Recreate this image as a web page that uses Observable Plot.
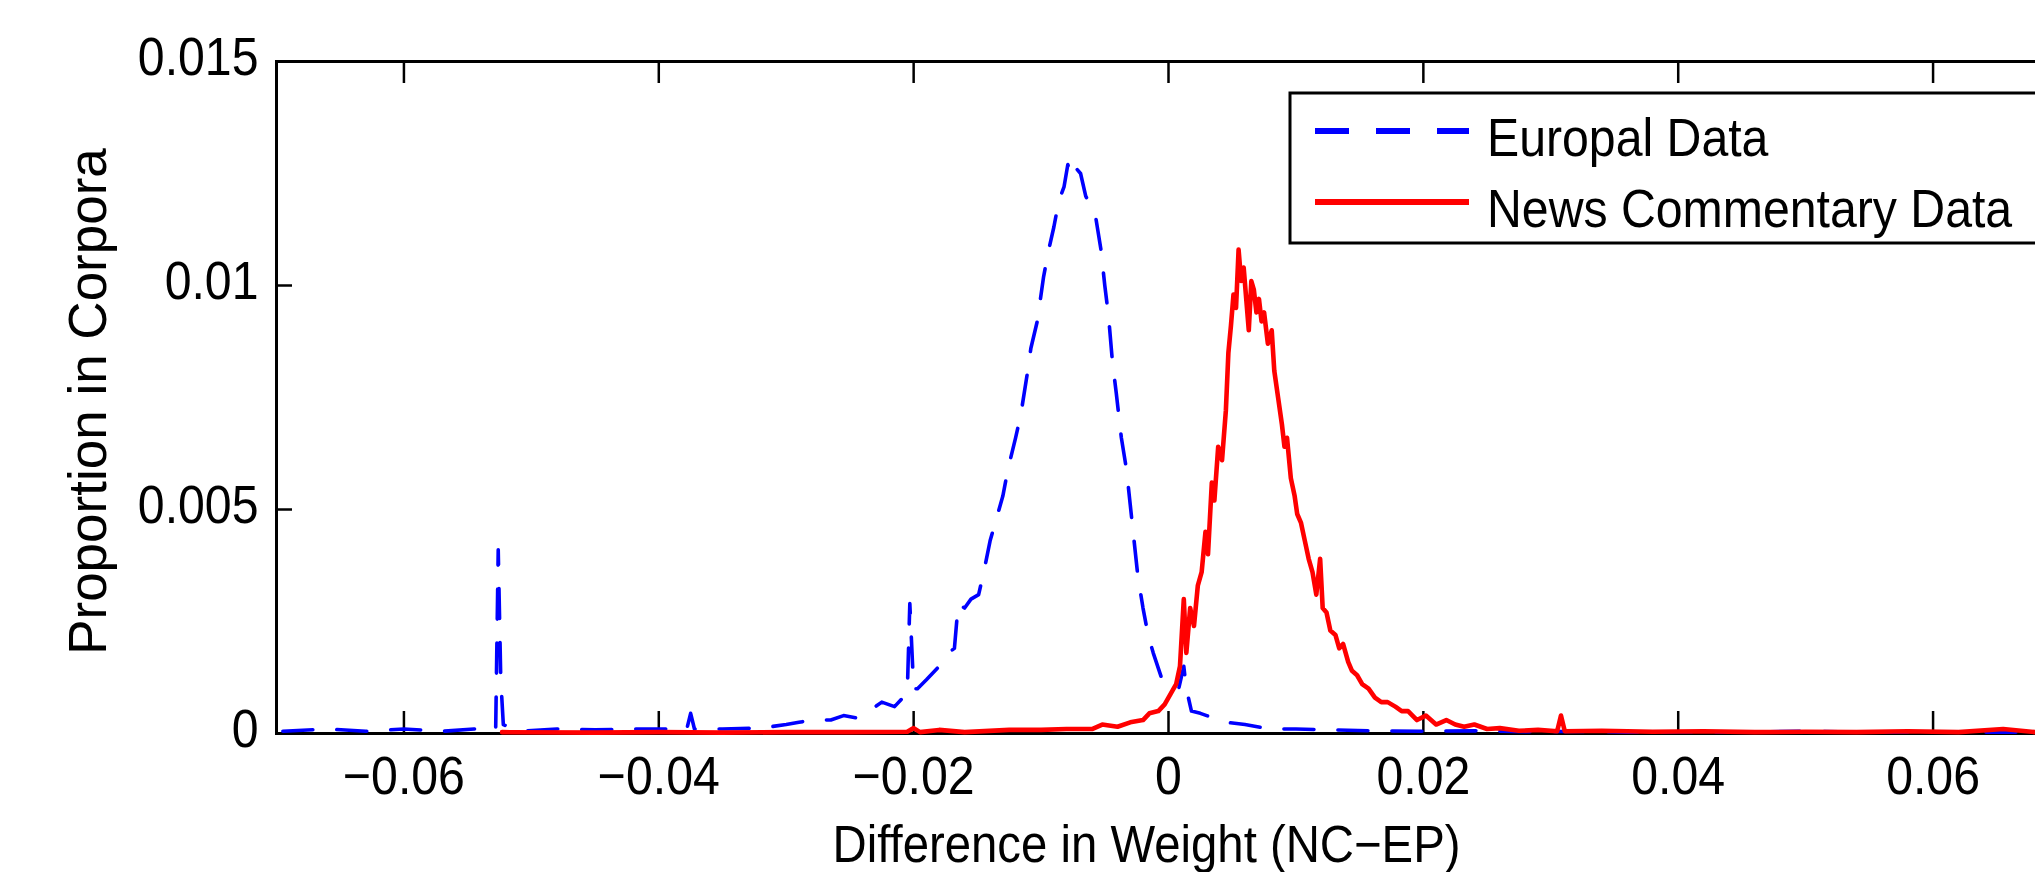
<!DOCTYPE html>
<html>
<head>
<meta charset="utf-8">
<script src="https://cdn.jsdelivr.net/npm/d3@7"></script>
<script src="https://cdn.jsdelivr.net/npm/@observablehq/plot@0.6"></script>
<style>
html, body { margin: 0; padding: 0; background: #fff; overflow: hidden; }
#chart { width: 2035px; height: 872px; overflow: hidden; }
#chart svg { max-width: none !important; width: 2100px !important; height: 872px !important; }
</style>
</head>
<body>
<div id="chart"></div>
<script>
// ---- Data ----
const seriesNames = ["Europal Data", "News Commentary Data"];
const seriesColors = ["#0000ff", "#ff0000"];

const xTicks = [-0.06, -0.04, -0.02, 0, 0.02, 0.04, 0.06];
const xTickLabels = ["\u22120.06", "\u22120.04", "\u22120.02", "0", "0.02", "0.04", "0.06"];
const yTicks = [0, 0.005, 0.01, 0.015];
const yTickLabels = ["0", "0.005", "0.01", "0.015"];
const xLabel = "Difference in Weight (NC\u2212EP)";
const yLabel = "Proportion in Corpora";

// Europal (blue, dashed)
const europalX = [-0.0695, -0.066, -0.063, -0.060, -0.057, -0.0545, -0.0528, -0.0526, -0.0524, -0.0522, -0.051, -0.048, -0.045, -0.042, -0.039, -0.0378, -0.0375, -0.0372, -0.035, -0.032, -0.030, -0.029, -0.028, -0.0265, -0.0255, -0.0245, -0.0235, -0.0225, -0.0215, -0.0205, -0.0203, -0.0200, -0.0197, -0.019, -0.018, -0.0173, -0.0168, -0.0165, -0.016, -0.0155, -0.0149, -0.0145, -0.014, -0.0135, -0.013, -0.0126, -0.012, -0.0116, -0.0111, -0.0108, -0.0103, -0.0098, -0.0094, -0.0090, -0.0086, -0.0082, -0.0079, -0.0076, -0.0072, -0.0069, -0.0065, -0.0060, -0.0057, -0.0053, -0.0050, -0.0047, -0.0044, -0.0041, -0.0037, -0.0033, -0.0030, -0.0027, -0.0024, -0.0020, -0.0016, -0.0012, -0.0005, 0.0000, 0.0008, 0.0012, 0.0014, 0.0018, 0.0025, 0.003, 0.0045, 0.006, 0.008, 0.010, 0.013, 0.016, 0.020, 0.024, 0.028, 0.032, 0.036, 0.040, 0.045, 0.050, 0.055, 0.060, 0.065, 0.0695];
const europalY = [0.00005, 0.0001, 0.00005, 0.0001, 0.00005, 0.0001, 0.00008, 0.0041, 0.0012, 0.0002, 0.00005, 0.0001, 0.00008, 0.0001, 0.0001, 0.0001, 0.00045, 0.0001, 0.0001, 0.00012, 0.0002, 0.00025, 0.0003, 0.0003, 0.0004, 0.00035, 0.0005, 0.0007, 0.0006, 0.0009, 0.0029, 0.0010, 0.0010, 0.0012, 0.0015, 0.0018, 0.0019, 0.0029, 0.0028, 0.0030, 0.0031, 0.0036, 0.0043, 0.0048, 0.0053, 0.0059, 0.0066, 0.0071, 0.0080, 0.0086, 0.0092, 0.0102, 0.0108, 0.0113, 0.0119, 0.0122, 0.0127, 0.0124, 0.0126, 0.0125, 0.0120, 0.0117, 0.0115, 0.0108, 0.0100, 0.0093, 0.0083, 0.0076, 0.0066, 0.0059, 0.0051, 0.0043, 0.0035, 0.0028, 0.0022, 0.0018, 0.0012, 0.0011, 0.0010, 0.0015, 0.0010, 0.0005, 0.00045, 0.0004, 0.00025, 0.0002, 0.0001, 0.0001, 0.00008, 0.00006, 0.00005, 0.00006, 0.00004, 0.00005, 0.00003, 0.00004, 0.00003, 0.00005, 0.00003, 0.00004, 0.00003, 0.00002];

// News Commentary (red, solid)
const newsX = [-0.0523, -0.045, -0.040, -0.035, -0.030, -0.025, -0.0205, -0.0200, -0.0195, -0.018, -0.016, -0.0125, -0.010, -0.008, -0.006, -0.0052, -0.004, -0.003, -0.002, -0.0015, -0.0008, -0.0003, 0.0002, 0.0006, 0.0009, 0.0012, 0.0014, 0.0017, 0.0020, 0.0023, 0.0026, 0.0029, 0.0031, 0.0034, 0.0036, 0.0039, 0.0042, 0.0045, 0.0047, 0.0049, 0.0051, 0.0053, 0.0055, 0.0057, 0.0059, 0.0061, 0.0063, 0.0065, 0.0067, 0.0069, 0.0071, 0.0073, 0.0075, 0.0078, 0.0081, 0.0083, 0.0086, 0.0089, 0.0091, 0.0093, 0.0096, 0.0099, 0.0101, 0.0104, 0.0107, 0.0110, 0.0113, 0.0116, 0.0119, 0.0121, 0.0124, 0.0127, 0.0131, 0.0134, 0.0137, 0.0141, 0.0144, 0.0148, 0.0152, 0.0157, 0.0162, 0.0167, 0.0172, 0.0178, 0.0183, 0.0188, 0.0195, 0.0202, 0.0210, 0.0218, 0.0225, 0.0232, 0.0240, 0.0250, 0.0260, 0.0275, 0.0290, 0.0305, 0.0308, 0.0311, 0.034, 0.038, 0.042, 0.046, 0.050, 0.054, 0.058, 0.062, 0.0655, 0.068, 0.0699];
const newsY = [0.00003, 0.00002, 0.00003, 0.00002, 0.00003, 0.00003, 0.00004, 0.00012, 0.00003, 0.00008, 0.00003, 0.00008, 0.00008, 0.0001, 0.0001, 0.0002, 0.00015, 0.00025, 0.0003, 0.00045, 0.0005, 0.00065, 0.0009, 0.0011, 0.0015, 0.0030, 0.0018, 0.0028, 0.0024, 0.0033, 0.0036, 0.0045, 0.0040, 0.0056, 0.0052, 0.0064, 0.0061, 0.0072, 0.0085, 0.0091, 0.0098, 0.0095, 0.0108, 0.0101, 0.0104, 0.0097, 0.0090, 0.0101, 0.0099, 0.0094, 0.0097, 0.0092, 0.0094, 0.0087, 0.0090, 0.0081, 0.0075, 0.0069, 0.0064, 0.0066, 0.0057, 0.0053, 0.0049, 0.0047, 0.0043, 0.0039, 0.0036, 0.0031, 0.0039, 0.0028, 0.0027, 0.0023, 0.0022, 0.0019, 0.0020, 0.0016, 0.0014, 0.0013, 0.0011, 0.0010, 0.0008, 0.0007, 0.0007, 0.0006, 0.0005, 0.0005, 0.0003, 0.0004, 0.0002, 0.0003, 0.0002, 0.00015, 0.0002, 0.0001, 0.00012, 0.00006, 0.00008, 0.00005, 0.0004, 0.00005, 0.00006, 0.00004, 0.00005, 0.00003, 0.00004, 0.00003, 0.00005, 0.00003, 0.0001, 0.00003, 0.00002];

// ---- Build tables ----
const europal = europalX.map((x, i) => ({x, y: europalY[i]}));
const news = newsX.map((x, i) => ({x, y: newsY[i]}));

const W = 2100, H = 872;
const mL = 276, mR = 40, mT = 61, mB = 139;
const plotW = W - mL - mR, plotH = H - mT - mB;
const FONT = "'Liberation Sans', Arial, Helvetica, sans-serif";

const chart = Plot.plot({
  width: W, height: H,
  marginLeft: mL, marginRight: mR, marginTop: mT, marginBottom: mB,
  style: {fontFamily: FONT, fontSize: "53px", color: "black", background: "white", overflow: "visible", maxWidth: "none"},
  x: {domain: [-0.07, 0.07]},
  y: {domain: [0, 0.015]},
  marks: [
    Plot.frame({stroke: "black", strokeWidth: 3}),
    Plot.ruleX(xTicks, {x: d => d, insetTop: plotH - 22, stroke: "black", strokeWidth: 2.5}),
    Plot.ruleX(xTicks, {x: d => d, insetBottom: plotH - 22, stroke: "black", strokeWidth: 2.5}),
    Plot.ruleY(yTicks, {y: d => d, insetRight: plotW - 16, stroke: "black", strokeWidth: 2.5}),
    Plot.ruleY(yTicks, {y: d => d, insetLeft: plotW - 16, stroke: "black", strokeWidth: 2.5}),
    Plot.line(europal, {x: "x", y: "y", stroke: seriesColors[0], strokeWidth: 3.6, strokeDasharray: "30,24"}),
    Plot.line(news, {x: "x", y: "y", stroke: seriesColors[1], strokeWidth: 4.6}),
    Plot.axisX(xTicks, {anchor: "bottom", tickSize: 0, tickPadding: 23, label: null,
      tickFormat: d => xTickLabels[xTicks.indexOf(d)], fontSize: 53}),
    Plot.axisY(yTicks, {anchor: "left", tickSize: 0, tickPadding: 18, label: null, dy: -3,
      tickFormat: d => yTickLabels[yTicks.indexOf(d)], fontSize: 53}),
    Plot.text([xLabel], {frameAnchor: "bottom", textAnchor: "middle", lineAnchor: "bottom", dx: -22, dy: 128, fontSize: 52}),
    Plot.text([yLabel], {frameAnchor: "left", textAnchor: "middle", rotate: -90, lineAnchor: "bottom", dx: -171, dy: 4, fontSize: 53})
  ]
});

// Legend inside the axes (upper right)
const svg = d3.select(chart);
const lg = svg.append("g").attr("class", "legend").attr("text-anchor", "start");
lg.append("rect").attr("x", 1290).attr("y", 93).attr("width", 750).attr("height", 150)
  .attr("fill", "white").attr("stroke", "black").attr("stroke-width", 3);
const rows = [131, 202];
seriesNames.forEach((name, i) => {
  lg.append("line").attr("x1", 1315).attr("x2", 1469).attr("y1", rows[i]).attr("y2", rows[i])
    .attr("stroke", seriesColors[i]).attr("stroke-width", 6)
    .attr("stroke-dasharray", i === 0 ? "34,27" : null);
  lg.append("text").text(name)
    .attr("transform", `translate(1487,${rows[i] + 25})`)
    .attr("text-anchor", "start")
    .attr("font-family", FONT).attr("font-size", 53).attr("fill", "black");
});

// Slight horizontal condensing of horizontal text, as in the reference
chart.querySelectorAll("text").forEach(t => {
  const tr = t.getAttribute("transform") || "";
  if (tr.includes("rotate")) return;
  const x = +(t.getAttribute("x") || 0);
  if (x) t.setAttribute("transform", `${tr} translate(${x},0) scale(0.91,1) translate(${-x},0)`);
  else t.setAttribute("transform", `${tr} scale(0.91,1)`);
});

chart.style.maxWidth = "none";
chart.setAttribute("width", W);
chart.setAttribute("height", H);
document.getElementById("chart").appendChild(chart);
</script>
</body>
</html>
